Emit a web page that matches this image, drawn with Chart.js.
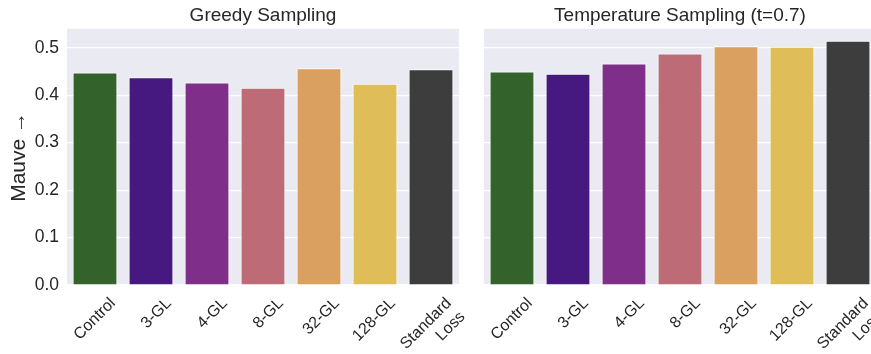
<!DOCTYPE html>
<html>
<head>
<meta charset="utf-8">
<script src="https://cdn.jsdelivr.net/npm/chart.js@4.4.0/dist/chart.umd.min.js"></script>
<style>
  html, body { margin: 0; padding: 0; background: #fff; overflow: hidden; }
  #wrap { position: relative; width: 871px; height: 354px; overflow: hidden; }
  #c1 { position: absolute; left: 0; top: 0; }
  #c2 { position: absolute; left: 470px; top: 0; }
</style>
</head>
<body>
<div id="wrap">
  <canvas id="c1" width="470" height="354"></canvas>
  <canvas id="c2" width="410" height="354"></canvas>
</div>
<script>
var labels = ['Control', '3-GL', '4-GL', '8-GL', '32-GL', '128-GL', ['Standard', 'Loss']];
var greedy = [0.448, 0.438, 0.427, 0.416, 0.457, 0.424, 0.455];
var temperature = [0.450, 0.445, 0.467, 0.488, 0.503, 0.502, 0.515];
var barColors = ['#33632b', '#45197f', '#7f2f8a', '#bd6b77', '#d9a05f', '#dfbd58', '#3d3d3d'];
var yTicks = [0.0, 0.1, 0.2, 0.3, 0.4, 0.5];

var txt = '#262626';
var fam = '"Liberation Sans", Arial, sans-serif';

// gray seaborn-like panel behind the plot
var panelBg = {
  id: 'panelBg',
  beforeDraw: function(chart) {
    var a = chart.chartArea, c = chart.ctx;
    c.save();
    c.fillStyle = '#eaeaf2';
    c.fillRect(a.left, a.top, a.right - a.left, a.bottom - a.top);
    c.restore();
  }
};

function makeChart(el, title, values, showY, yWidth, padRight) {
  return new Chart(el, {
    type: 'bar',
    data: {
      labels: labels,
      datasets: [{
        data: values,
        backgroundColor: barColors,
        borderColor: '#ffffff',
        borderWidth: 1,
        barPercentage: 0.8,
        categoryPercentage: 1.0
      }]
    },
    options: {
      responsive: false,
      animation: false,
      layout: { padding: { left: 0, right: padRight, top: 0, bottom: 0 } },
      plugins: {
        legend: { display: false },
        tooltip: { enabled: false },
        title: {
          display: true,
          fullSize: false,
          text: title,
          color: txt,
          font: { family: fam, size: 19, weight: 'normal' },
          padding: { top: 4, bottom: 2 }
        }
      },
      scales: {
        x: {
          grid: { display: false },
          border: { display: false },
          ticks: {
            color: txt,
            font: { family: fam, size: 16 },
            minRotation: 45,
            maxRotation: 45,
            autoSkip: false,
            labelOffset: 18,
            padding: 1
          },
          afterFit: function(s) { s.height = 69; }
        },
        y: {
          min: 0,
          max: 0.54,
          grid: { color: '#ffffff', lineWidth: 1.2, drawTicks: false },
          border: { display: false },
          afterBuildTicks: function(s) {
            s.ticks = yTicks.map(function(v) { return { value: v }; });
          },
          ticks: {
            display: showY,
            color: txt,
            padding: 8,
            font: { family: fam, size: 17.5 },
            callback: function(v) { return v.toFixed(1); }
          },
          title: {
            display: showY,
            text: 'Mauve →',
            color: txt,
            font: { family: fam, size: 21 },
            padding: { top: 7, bottom: 0 }
          },
          afterFit: function(s) { s.width = yWidth; }
        }
      }
    },
    plugins: [panelBg]
  });
}

makeChart(document.getElementById('c1'), 'Greedy Sampling', greedy, true, 67, 11);
makeChart(document.getElementById('c2'), 'Temperature Sampling (t=0.7)', temperature, false, 14, 4);
</script>
</body>
</html>
